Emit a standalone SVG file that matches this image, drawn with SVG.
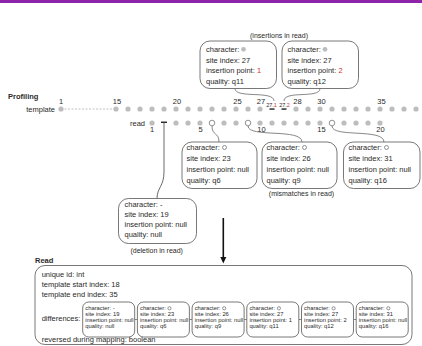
<svg xmlns="http://www.w3.org/2000/svg" width="422" height="346" viewBox="0 0 422 346">
<style>
text{font-family:"Liberation Sans",Arial,sans-serif;fill:#2a2a2a;font-size:7.5px}
.b{font-weight:bold}
.s{font-size:7px}
.m{text-anchor:middle}
.e{text-anchor:end}
.tiny{font-size:5.5px}
.mini{font-size:5.8px}
.red{fill:#d32f2f}
.box{fill:#fff;stroke:#555;stroke-width:0.8}
.dot{fill:#bdbdbd}
.open{fill:#fff;stroke:#777;stroke-width:0.8}
.con{fill:none;stroke:#555;stroke-width:0.7}
</style>
<rect x="0" y="0" width="422" height="3" fill="#8e24aa"/>
<text class="b" x="8" y="99">Profiling</text>

<g id="template-row">
<text class="e" x="55" y="111.7">template</text>
<line x1="61" y1="109" x2="116" y2="109" stroke="#999" stroke-width="0.6" stroke-dasharray="2,1.5"/>
<circle class="dot" cx="61" cy="109" r="2.6"/>
<g class="dot">
<circle cx="116" cy="109" r="2.6"/><circle cx="128" cy="109" r="2.6"/><circle cx="140" cy="109" r="2.6"/><circle cx="152" cy="109" r="2.6"/><circle cx="164" cy="109" r="2.6"/><circle cx="176" cy="109" r="2.6"/><circle cx="188" cy="109" r="2.6"/><circle cx="200" cy="109" r="2.6"/><circle cx="212" cy="109" r="2.6"/><circle cx="224" cy="109" r="2.6"/><circle cx="236" cy="109" r="2.6"/><circle cx="248" cy="109" r="2.6"/><circle cx="260" cy="109" r="2.6"/>
<circle cx="296" cy="109" r="2.6"/><circle cx="308" cy="109" r="2.6"/><circle cx="320" cy="109" r="2.6"/><circle cx="332" cy="109" r="2.6"/><circle cx="344" cy="109" r="2.6"/><circle cx="356" cy="109" r="2.6"/><circle cx="368" cy="109" r="2.6"/><circle cx="380" cy="109" r="2.6"/><circle cx="392" cy="109" r="2.6"/><circle cx="404" cy="109" r="2.6"/><circle cx="416" cy="109" r="2.6"/>
</g>
<rect x="269.5" y="108.4" width="5" height="1.3" fill="#111"/>
<rect x="281.5" y="108.4" width="5" height="1.3" fill="#111"/>
<text class="m" x="61" y="103.7">1</text>
<text class="m" x="117" y="103.7">15</text>
<text class="m" x="177" y="103.7">20</text>
<text class="m" x="237.5" y="103.7">25</text>
<text class="m" x="261" y="103.7">27</text>
<text class="m" x="297.5" y="103.7">28</text>
<text class="m" x="321.5" y="103.7">30</text>
<text class="m" x="381.5" y="103.7">35</text>
<text class="tiny m" x="271.5" y="106.8">27.<tspan class="red">1</tspan></text>
<text class="tiny m" x="284.5" y="106.8">27.<tspan class="red">2</tspan></text>
</g>

<g id="read-row">
<text class="e" x="145" y="126">read</text>
<g class="dot">
<circle cx="152" cy="123" r="2.6"/>
<circle cx="176" cy="123" r="2.6"/><circle cx="188" cy="123" r="2.6"/><circle cx="200" cy="123" r="2.6"/><circle cx="224" cy="123" r="2.6"/><circle cx="236" cy="123" r="2.6"/><circle cx="260" cy="123" r="2.6"/><circle cx="272" cy="123" r="2.6"/><circle cx="284" cy="123" r="2.6"/><circle cx="296" cy="123" r="2.6"/><circle cx="308" cy="123" r="2.6"/><circle cx="320" cy="123" r="2.6"/><circle cx="344" cy="123" r="2.6"/><circle cx="356" cy="123" r="2.6"/><circle cx="368" cy="123" r="2.6"/><circle cx="380" cy="123" r="2.6"/>
</g>
<circle class="open" cx="212" cy="123" r="2.8"/>
<circle class="open" cx="248" cy="123" r="2.8"/>
<circle class="open" cx="332" cy="123" r="2.8"/>
<rect x="161" y="121.6" width="6" height="1.3" fill="#111"/>
<text class="m" x="152" y="131.8">1</text>
<text class="m" x="200.5" y="131.8">5</text>
<text class="m" x="261.5" y="131.8">10</text>
<text class="m" x="321.5" y="131.8">15</text>
<text class="m" x="380.5" y="131.8">20</text>
</g>

<g id="connectors">
<path class="con" d="M235,88.5 C235,99 274,90 274,101"/>
<path class="con" d="M320,88.5 C320,99 284,90 284,101"/>
<path class="con" d="M212,126 C212,136 219,132 219,142"/>
<path class="con" d="M248,126 C248,138 302,128 302,142"/>
<path class="con" d="M332,126 C332,138 384,128 384,142"/>
<path d="M164,122 L164,172 C164,186 157,188 157,198.5" fill="none" stroke="#444" stroke-width="0.8"/>
<line x1="223.3" y1="218" x2="223.3" y2="258" stroke="#111" stroke-width="1.6"/>
<polygon points="220.3,257 226.3,257 223.3,263.5" fill="#111"/>
</g>

<text class="s m" x="279" y="37.5">(insertions in read)</text>
<g id="insertion-1">
<rect class="box" x="200" y="41" width="76.5" height="47.5" rx="10"/>
<text x="206" y="51.9">character:</text><circle class="dot" cx="243.5" cy="49.3" r="2.4"/>
<text x="206" y="62.5">site index: 27</text>
<text x="206" y="73.1">insertion point: <tspan class="red">1</tspan></text>
<text x="206" y="83.6">quality: q11</text>
</g>
<g id="insertion-2">
<rect class="box" x="282" y="41" width="76.5" height="47.5" rx="10"/>
<text x="287.5" y="51.9">character:</text><circle class="dot" cx="325" cy="49.3" r="2.4"/>
<text x="287.5" y="62.5">site index: 27</text>
<text x="287.5" y="73.1">insertion point: <tspan class="red">2</tspan></text>
<text x="287.5" y="83.6">quality: q12</text>
</g>

<g id="mismatch-1">
<rect class="box" x="182" y="142" width="75" height="46.5" rx="10"/>
<text x="186.5" y="150">character:</text><circle class="open" cx="224.5" cy="147.5" r="2"/>
<text x="186.5" y="160.9">site index: 23</text>
<text x="186.5" y="171.8">insertion point: null</text>
<text x="186.5" y="182.6">quality: q6</text>
</g>
<g id="mismatch-2">
<rect class="box" x="262" y="142" width="75" height="46.5" rx="10"/>
<text x="266.5" y="150">character:</text><circle class="open" cx="304.5" cy="147.5" r="2"/>
<text x="266.5" y="160.9">site index: 26</text>
<text x="266.5" y="171.8">insertion point: null</text>
<text x="266.5" y="182.6">quality: q9</text>
</g>
<g id="mismatch-3">
<rect class="box" x="343.5" y="142" width="76.5" height="46.5" rx="10"/>
<text x="348.5" y="150">character:</text><circle class="open" cx="386.5" cy="147.5" r="2"/>
<text x="348.5" y="160.9">site index: 31</text>
<text x="348.5" y="171.8">insertion point: null</text>
<text x="348.5" y="182.6">quality: q16</text>
</g>
<text class="s m" x="301.5" y="195.8">(mismatches in read)</text>

<g id="deletion">
<rect class="box" x="118.5" y="198.5" width="78" height="45" rx="10"/>
<text x="124.5" y="206.7">character: -</text>
<text x="124.5" y="216.9">site index: 19</text>
<text x="124.5" y="227">insertion point: null</text>
<text x="124.5" y="237.1">quality: null</text>
</g>
<text class="s m" x="156.7" y="253.2">(deletion in read)</text>

<g id="read">
<text class="b" x="35" y="262.6">Read</text>
<rect class="box" x="35" y="265.5" width="377" height="79" rx="10"/>
<text x="41.7" y="276.7">unique id: int</text>
<text x="41.7" y="287">template start index: 18</text>
<text x="41.7" y="297">template end index: 35</text>
<text x="41.7" y="321">differences:</text>
<text x="41.7" y="342">reversed during mapping: boolean</text>
<g stroke="#555" stroke-width="0.7">
<line x1="134.7" y1="319.5" x2="137.4" y2="319.5"/>
<line x1="189.4" y1="319.5" x2="192.1" y2="319.5"/>
<line x1="244.1" y1="319.5" x2="246.8" y2="319.5"/>
<line x1="298.8" y1="319.5" x2="301.5" y2="319.5"/>
<line x1="353.5" y1="319.5" x2="356.2" y2="319.5"/>
</g>
<g id="diff-1">
<rect class="box" x="82.7" y="302" width="52" height="35" rx="6"/>
<text class="mini" x="85.3" y="310.2">character: -</text>
<text class="mini" x="85.3" y="316.1">site index: 19</text>
<text class="mini" x="85.3" y="322">insertion point: null</text>
<text class="mini" x="85.3" y="327.9">quality: null</text>
</g>
<g id="diff-2">
<rect class="box" x="137.4" y="302" width="52" height="35" rx="6"/>
<text class="mini" x="140" y="310.2">character:</text><circle class="open" cx="169.5" cy="308.3" r="1.6"/>
<text class="mini" x="140" y="316.1">site index: 23</text>
<text class="mini" x="140" y="322">insertion point: null</text>
<text class="mini" x="140" y="327.9">quality: q6</text>
</g>
<g id="diff-3">
<rect class="box" x="192.1" y="302" width="52" height="35" rx="6"/>
<text class="mini" x="194.7" y="310.2">character:</text><circle class="open" cx="224.2" cy="308.3" r="1.6"/>
<text class="mini" x="194.7" y="316.1">site index: 26</text>
<text class="mini" x="194.7" y="322">insertion point: null</text>
<text class="mini" x="194.7" y="327.9">quality: q9</text>
</g>
<g id="diff-4">
<rect class="box" x="246.8" y="302" width="52" height="35" rx="6"/>
<text class="mini" x="249.4" y="310.2">character:</text><circle class="open" cx="278.9" cy="308.3" r="1.6"/>
<text class="mini" x="249.4" y="316.1">site index: 27</text>
<text class="mini" x="249.4" y="322">insertion point: 1</text>
<text class="mini" x="249.4" y="327.9">quality: q11</text>
</g>
<g id="diff-5">
<rect class="box" x="301.5" y="302" width="52" height="35" rx="6"/>
<text class="mini" x="304.1" y="310.2">character:</text><circle class="open" cx="333.6" cy="308.3" r="1.6"/>
<text class="mini" x="304.1" y="316.1">site index: 27</text>
<text class="mini" x="304.1" y="322">insertion point: 2</text>
<text class="mini" x="304.1" y="327.9">quality: q12</text>
</g>
<g id="diff-6">
<rect class="box" x="356.2" y="302" width="52" height="35" rx="6"/>
<text class="mini" x="358.8" y="310.2">character:</text><circle class="open" cx="388.3" cy="308.3" r="1.6"/>
<text class="mini" x="358.8" y="316.1">site index: 31</text>
<text class="mini" x="358.8" y="322">insertion point: null</text>
<text class="mini" x="358.8" y="327.9">quality: q16</text>
</g>
</g>
</svg>
